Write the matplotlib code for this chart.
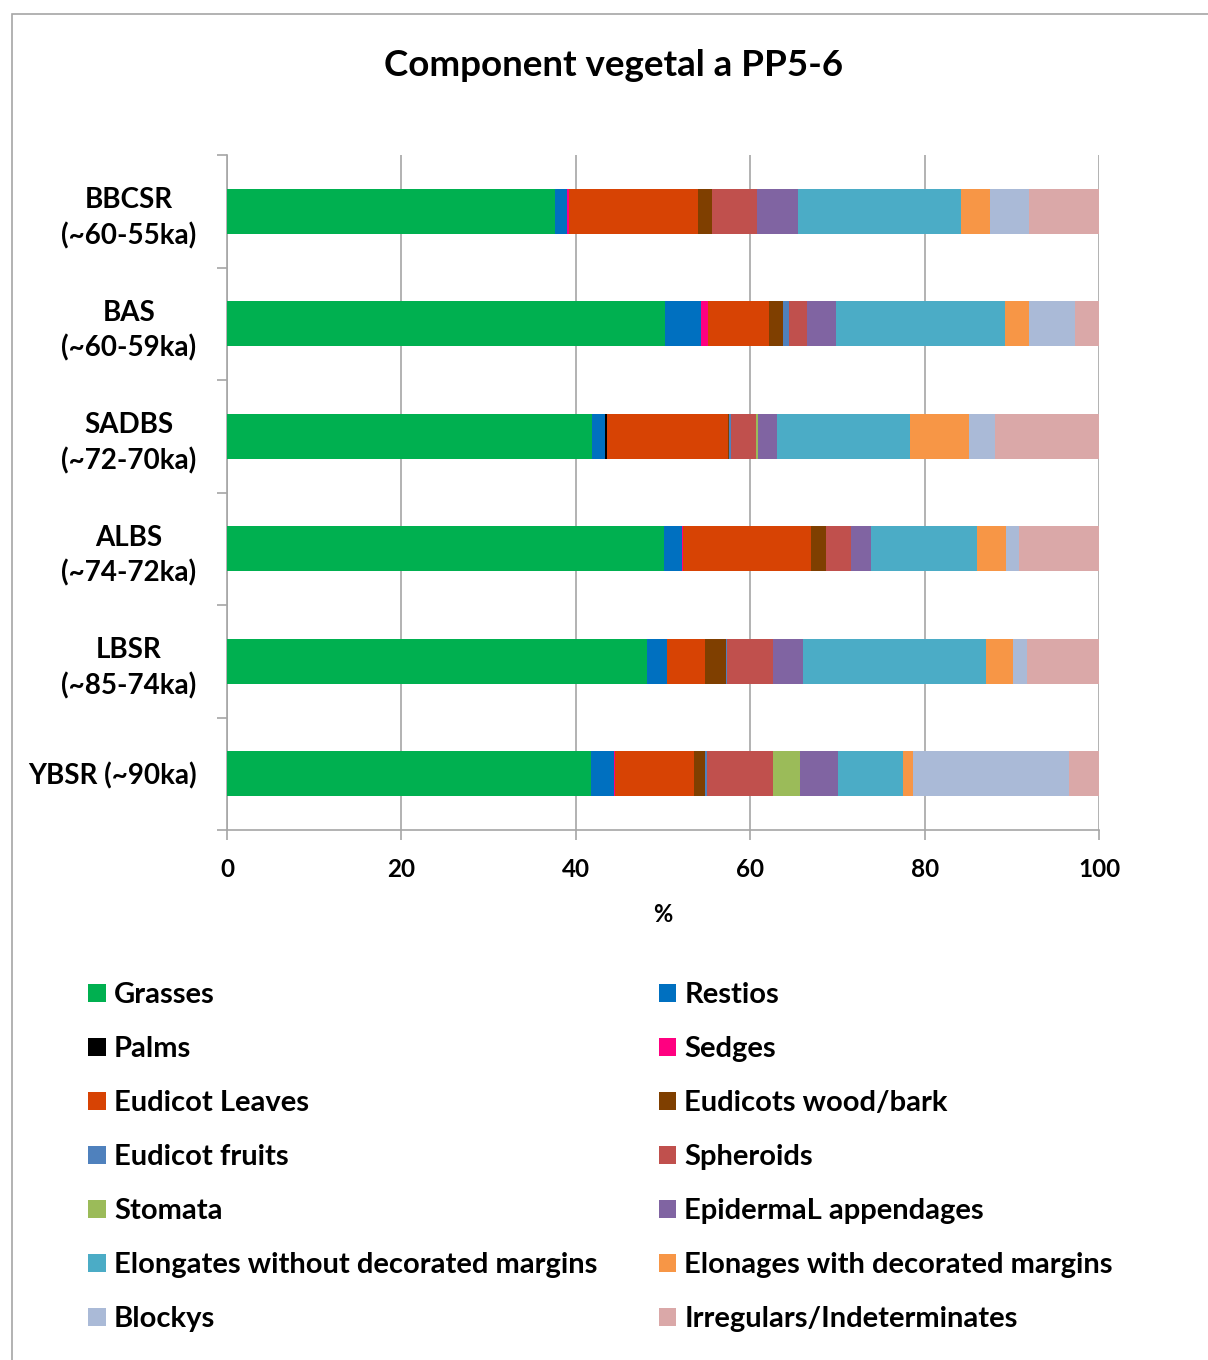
import numpy as np
import matplotlib.pyplot as plt
from matplotlib.patches import Rectangle, Patch

plt.rcParams['font.family'] = ['Lato', 'DejaVu Sans']
plt.rcParams['font.weight'] = 'bold'

# ---- data (percent) ----
samples = ['BBCSR\n(~60-55ka)', 'BAS\n(~60-59ka)', 'SADBS\n(~72-70ka)',
           'ALBS\n(~74-72ka)', 'LBSR\n(~85-74ka)', 'YBSR (~90ka)']

components = ['Grasses', 'Restios', 'Palms', 'Sedges', 'Eudicot Leaves',
              'Eudicots wood/bark', 'Eudicot fruits', 'Spheroids', 'Stomata',
              'EpidermaL appendages', 'Elongates without decorated margins',
              'Elonages with decorated margins', 'Blockys',
              'Irregulars/Indeterminates']

colors = ['#00B050', '#0070C0', '#000000', '#FF0080', '#D74304', '#7F3F00',
          '#4F81BD', '#C0504D', '#9BBB59', '#8064A2', '#4BACC6', '#F79646',
          '#AABAD7', '#DAA8A8']

bbcsr = [37.6, 1.4, 0.0, 0.25, 14.75, 1.6, 0.0, 5.2, 0.0, 4.7, 18.7, 3.3, 4.5, 8.0]
bas   = [50.2, 4.2, 0.0, 0.8, 7.0, 1.6, 0.6, 2.1, 0.0, 3.3, 19.4, 2.8, 5.2, 2.8]
sadbs = [41.9, 1.5, 0.15, 0.0, 13.85, 0.2, 0.2, 2.9, 0.2, 2.2, 15.2, 6.8, 3.0, 11.9]
albs  = [50.1, 2.1, 0.0, 0.15, 14.65, 1.7, 0.0, 2.9, 0.0, 2.3, 12.1, 3.3, 1.5, 9.2]
lbsr  = [48.2, 2.3, 0.0, 0.0, 4.3, 2.4, 0.1, 5.3, 0.0, 3.5, 20.9, 3.1, 1.7, 8.2]
ybsr  = [41.8, 2.6, 0.0, 0.15, 9.05, 1.2, 0.2, 7.6, 3.1, 4.4, 7.4, 1.2, 17.9, 3.4]

data = np.array([bbcsr, bas, sadbs, albs, lbsr, ybsr])

# ---- figure ----
fig = plt.figure(figsize=(12.08, 13.6), dpi=100)
fig.patches.append(Rectangle((12 / 1208, -0.1), 1.2, 1 - 14 / 1360 + 0.1,
                             transform=fig.transFigure, fill=False,
                             edgecolor='#A6A6A6', linewidth=1.2))

ax = fig.add_axes([227 / 1208, 1 - 830 / 1360, 872 / 1208, 675 / 1360])

y = np.arange(len(samples))
left = np.zeros(len(samples))
for i, name in enumerate(components):
    ax.barh(y, data[:, i], left=left, height=0.4, color=colors[i],
            label=name, zorder=3)
    left += data[:, i]

ax.set_xlim(0, 100)
ax.set_ylim(len(samples) - 0.5, -0.5)
ax.set_xticks([0, 20, 40, 60, 80, 100])
ax.set_yticks(y)
ax.set_yticklabels(samples, fontsize=20, linespacing=1.4, multialignment='center')
ax.set_yticks(np.arange(-0.5, len(samples), 1), minor=True)
ax.tick_params(axis='y', which='major', length=0, pad=22)
ax.tick_params(axis='y', which='minor', length=7, color='#A6A6A6', width=1.2)
ax.tick_params(axis='x', labelsize=17.5, length=7, color='#A6A6A6', width=1.2, pad=13)
ax.grid(axis='x', color='#A6A6A6', linewidth=1.2, zorder=0)
for s in ['top', 'right']:
    ax.spines[s].set_visible(False)
for s in ['left', 'bottom']:
    ax.spines[s].set_color('#A6A6A6')
    ax.spines[s].set_linewidth(1.2)
ax.set_xlabel('%', fontsize=17, fontweight='bold', labelpad=16)

fig.text(614 / 1208, 1 - 65 / 1360, 'Component vegetal a PP5-6', ha='center',
         va='center', fontsize=26.5, fontweight='bold')

# legend filled row by row (two columns)
handles = [Patch(facecolor=c, label=n) for n, c in zip(components, colors)]
order = list(range(0, 14, 2)) + list(range(1, 14, 2))
leg = fig.legend([handles[k] for k in order], [components[k] for k in order],
                 ncol=2, loc='upper left', bbox_to_anchor=(62 / 1208, 1 - 956 / 1360),
                 frameon=False, fontsize=21, handlelength=0.6, handleheight=0.6,
                 handletextpad=0.28, labelspacing=0.96, columnspacing=2.1)

fig.savefig('out.png', dpi=100, facecolor='white')
